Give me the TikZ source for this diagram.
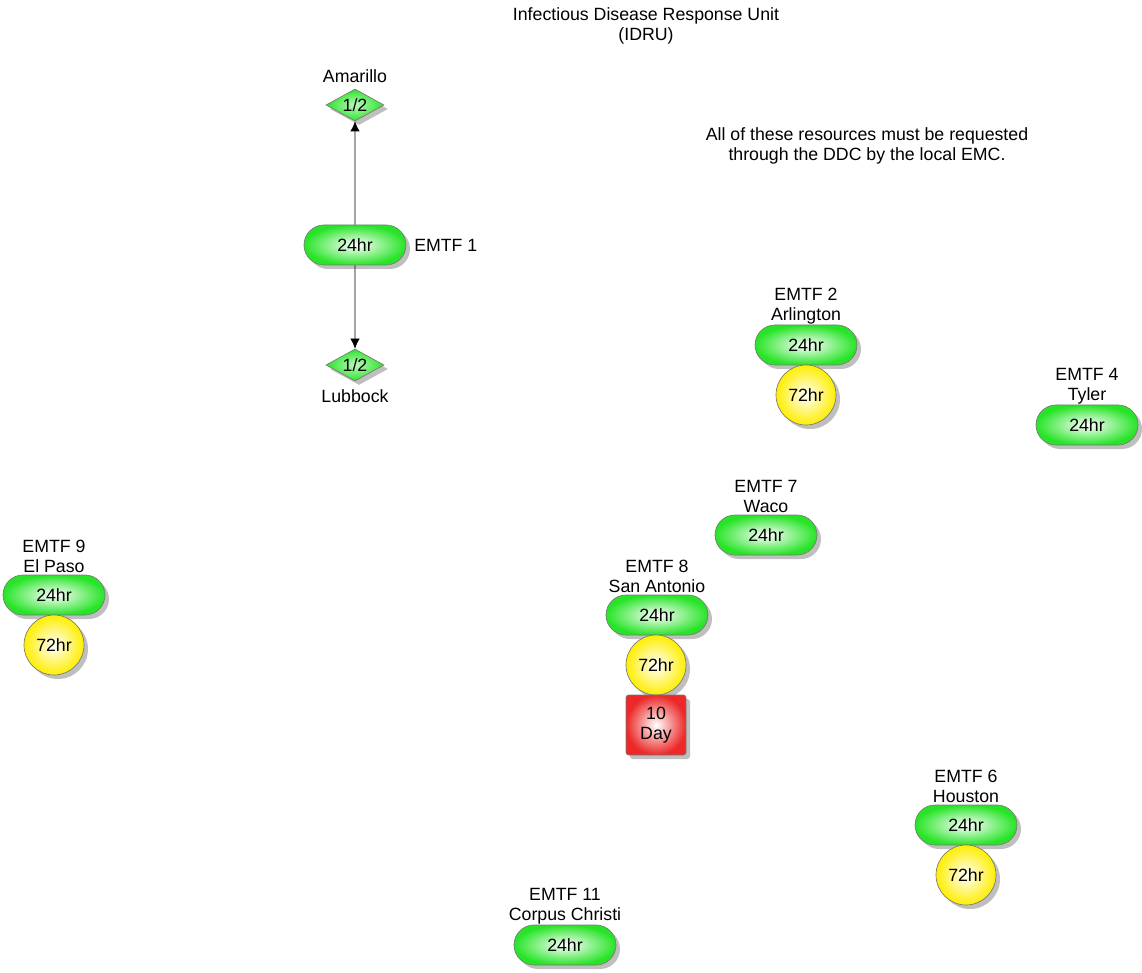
\documentclass[tikz,border=0pt]{standalone}
\usepackage{fontspec}
\setmainfont{Liberation Sans}
\usetikzlibrary{shapes.misc,shapes.geometric,shadows,arrows.meta}
\definecolor{pgreen}{RGB}{40,228,40}
\definecolor{pyellow}{RGB}{255,238,0}
\definecolor{pred}{RGB}{236,40,40}
\definecolor{edge}{RGB}{120,120,120}
\begin{document}
\begin{tikzpicture}[x=0.75pt,y=-0.75pt,
  every node/.style={font=\fontsize{13.3}{15}\selectfont},
  shd/.style={drop shadow={shadow xshift=3pt,shadow yshift=-3pt,fill=black,opacity=0.25}},
  pill/.style={rounded rectangle,minimum width=76.5pt,minimum height=30pt,inner sep=0pt,
    draw=edge,line width=0.5pt,inner color=white,outer color=pgreen,shd},
  circ/.style={circle,minimum size=45pt,inner sep=0pt,
    draw=edge,line width=0.5pt,inner color=white,outer color=pyellow,shd},
  sqr/.style={rectangle,rounded corners=2pt,minimum width=45pt,minimum height=45pt,inner sep=0pt,
    draw=edge,line width=0.5pt,inner color=white,outer color=pred,shd,align=center},
  dia/.style={diamond,aspect=1.8,minimum width=43.5pt,minimum height=24pt,inner sep=0pt,
    draw=edge,line width=0.5pt,inner color=pgreen!30!white,outer color=pgreen,shd},
  lbl/.style={align=center,inner sep=0pt},
  arr/.style={-{Latex[length=7.5pt,width=7pt]},line width=0.5pt,black}
]
\useasboundingbox (0,0) rectangle (1142,973);

\node[lbl] (title) at (646,26) {Infectious Disease Response Unit\\(IDRU)};
\node[lbl] (note) at (867,146) {All of these resources must be requested\\through the DDC by the local EMC.};

% EMTF 1
\node[pill] (p1) at (355,245) {24hr};
\node[lbl,anchor=west] (l1) at (414,245) {EMTF 1};
\node[dia] (ama) at (355,105) {1/2};
\node[lbl] (lama) at (355,76) {Amarillo};
\node[dia] (lub) at (355,365) {1/2};
\node[lbl] (llub) at (355,396) {Lubbock};
\draw[arr] (p1) -- (ama);
\draw[arr] (p1) -- (lub);

% EMTF 2
\node[lbl] (l2) at (806,306) {EMTF 2\\Arlington};
\node[pill] (p2) at (806,345) {24hr};
\node[circ] (c2) at (806,395) {72hr};

% EMTF 4
\node[lbl] (l4) at (1087,386) {EMTF 4\\Tyler};
\node[pill] (p4) at (1087,425) {24hr};

% EMTF 7
\node[lbl] (l7) at (766,496) {EMTF 7\\Waco};
\node[pill] (p7) at (766,535) {24hr};

% EMTF 8
\node[lbl] (l8) at (657,576) {EMTF 8\\San Antonio};
\node[pill] (p8) at (657,615) {24hr};
\node[circ] (c8) at (656,665) {72hr};
\node[sqr] (s8) at (656,725) {10\\Day};

% EMTF 9
\node[lbl] (l9) at (54,556) {EMTF 9\\El Paso};
\node[pill] (p9) at (54,595) {24hr};
\node[circ] (c9) at (54,645) {72hr};

% EMTF 6
\node[lbl] (l6) at (966,786) {EMTF 6\\Houston};
\node[pill] (p6) at (966,825) {24hr};
\node[circ] (c6) at (966,875) {72hr};

% EMTF 11
\node[lbl] (l11) at (565,906) {EMTF 11\\Corpus Christi};
\node[pill] (p11) at (565,945) {24hr};
\end{tikzpicture}
\end{document}
